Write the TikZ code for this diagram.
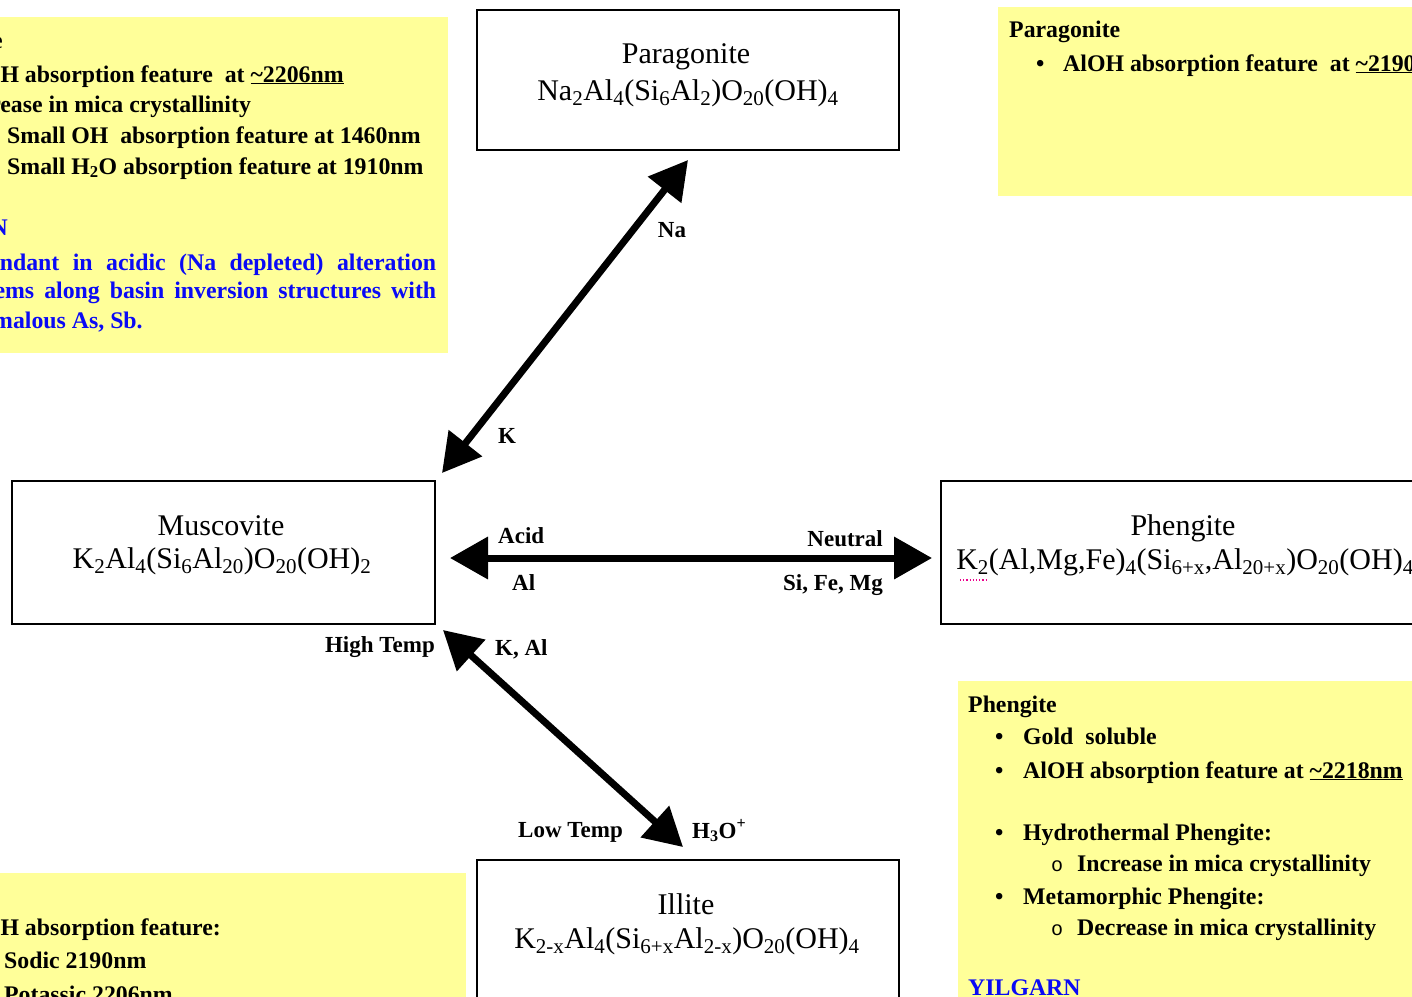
\documentclass[tikz,border=0pt]{standalone}
\usepackage{fontspec}
\setmainfont{Liberation Serif}
\newfontfamily\monofnt{Liberation Mono}
\usetikzlibrary{arrows.meta}
\definecolor{note}{RGB}{255,255,153}
\definecolor{noteblue}{RGB}{10,10,245}
\newcommand{\sbs}[1]{\textsubscript{#1}}
\newcommand{\sps}[1]{\textsuperscript{#1}}
\begin{document}
\begin{tikzpicture}[x=1pt,y=-1pt,
  lab/.style={font=\bfseries\fontsize{23}{27}\selectfont, inner sep=0, anchor=base west},
  txt/.style={font=\bfseries\fontsize{23.8}{28}\selectfont, inner sep=0, anchor=base west},
  bluetxt/.style={txt, text=noteblue},
  subbullet/.style={txt, font=\monofnt\mdseries\fontsize{20}{24}\selectfont},
  mineral/.style={draw, line width=1.6pt, fill=white, inner sep=0},
  boxtext/.style={font=\fontsize{30}{36}\selectfont, inner sep=0, anchor=base},
  biarrow/.style={line width=7pt, {Triangle[length=38pt,width=41pt]}-{Triangle[length=38pt,width=41pt]}}
]
\useasboundingbox (0,0) rectangle (1412,996);
\clip (0,0) rectangle (1412,996);
\fill[white] (0,0) rectangle (1412,996);

% yellow notes
\fill[note] (-5,17) rectangle (448,353);
\fill[note] (998,7) rectangle (1420,196);
\fill[note] (958,681) rectangle (1420,1005);
\fill[note] (-5,873) rectangle (466,1005);

% top-left note
\node[txt, anchor=base east] (tl0) at (3,48) {Muscovite};
\node[txt] (tl1) at (-42,82) {AlOH absorption feature\ \ at \underline{\textasciitilde2206nm}};
\node[txt] (tl2) at (-43,112) {Increase in mica crystallinity};
\node[txt] (tl3) at (7,143) {Small OH\ \ absorption feature at 1460nm};
\node[txt] (tl4) at (7,174) {Small H\sbs{2}O absorption feature at 1910nm};
\node[bluetxt, anchor=base east] (tl5) at (8,235) {N};
\node[bluetxt] (tl6) at (-44,270) {\makebox[480pt][s]{Abundant in acidic (Na depleted) alteration}};
\node[bluetxt] (tl7) at (-44,298) {\makebox[480pt][s]{systems along basin inversion structures with}};
\node[bluetxt] (tl8) at (-44,328) {anomalous As, Sb.};

% top-right note
\node[txt] (tr0) at (1009,37) {Paragonite};
\node[txt] (tr1b) at (1036,71) {•};
\node[txt] (tr1) at (1063,71) {AlOH absorption feature\ \ at \underline{\textasciitilde2190nm}};

% bottom-right note
\node[txt] (br0) at (968,712) {Phengite};
\node[txt] (br1b) at (995,744) {•};
\node[txt] (br1) at (1023,744) {Gold\ \ soluble};
\node[txt] (br2b) at (995,778) {•};
\node[txt] (br2) at (1023,778) {AlOH absorption feature at \underline{\textasciitilde2218nm}};
\node[txt] (br3b) at (995,840) {•};
\node[txt] (br3) at (1023,840) {Hydrothermal Phengite:};
\node[subbullet] (br4b) at (1051,871) {o};
\node[txt] (br4) at (1077,871) {Increase in mica crystallinity};
\node[txt] (br5b) at (995,904) {•};
\node[txt] (br5) at (1023,904) {Metamorphic Phengite:};
\node[subbullet] (br6b) at (1051,935) {o};
\node[txt] (br6) at (1077,935) {Decrease in mica crystallinity};
\node[bluetxt] (br7) at (968,995) {YILGARN};

% bottom-left note
\node[txt] (bl1) at (-42,935) {AlOH absorption feature:};
\node[txt] (bl2) at (4,968) {Sodic 2190nm};
\node[txt] (bl3) at (4,1002) {Potassic 2206nm};

% mineral boxes
\node[mineral, minimum width=422pt, minimum height=140pt] (para) at (688,80) {};
\node[mineral, minimum width=423pt, minimum height=143pt] (musc) at (223.5,552.5) {};
\node[mineral, minimum width=484pt, minimum height=143pt] (phen) at (1183,552.5) {};
\node[mineral, minimum width=422pt, minimum height=150pt] (illi) at (688,935) {};

\node[boxtext] (paraT) at (686,63) {Paragonite};
\node[boxtext] (paraF) at (688,100) {Na\sbs{2}Al\sbs{4}(Si\sbs{6}Al\sbs{2})O\sbs{20}(OH)\sbs{4}};
\node[boxtext] (muscT) at (221,535) {Muscovite};
\node[boxtext] (muscF) at (222,568) {K\sbs{2}Al\sbs{4}(Si\sbs{6}Al\sbs{20})O\sbs{20}(OH)\sbs{2}};
\node[boxtext] (phenT) at (1183,535) {Phengite};
\node[boxtext] (phenF) at (1185,569) {K\sbs{2}(Al,Mg,Fe)\sbs{4}(Si\sbs{6+x},Al\sbs{20+x})O\sbs{20}(OH)\sbs{4}};
\node[boxtext] (illiT) at (686,914) {Illite};
\node[boxtext] (illiF) at (687,948) {K\sbs{2-x}Al\sbs{4}(Si\sbs{6+x}Al\sbs{2-x})O\sbs{20}(OH)\sbs{4}};
\draw[magenta, dotted, line width=1.2pt] (960,580) -- (988,580);

% connectors
\coordinate (naTip) at (688,160);
\coordinate (kTip) at (442,473);
\coordinate (acidTip) at (450,558);
\coordinate (neutTip) at (932,558);
\coordinate (highTip) at (443,630);
\coordinate (lowTip) at (683,847);
\draw[biarrow] (naTip) -- (kTip);
\draw[biarrow] (acidTip) -- (neutTip);
\draw[biarrow] (highTip) -- (lowTip);

% arrow labels
\node[lab, anchor=base] (lNa) at (672,237) {Na};
\node[lab, anchor=base] (lK) at (507,443) {K};
\node[lab] (lAcid) at (498,543) {Acid};
\node[lab, anchor=base east] (lNeut) at (883,546) {Neutral};
\node[lab] (lAl) at (512,590) {Al};
\node[lab, anchor=base east] (lSi) at (883,590) {Si, Fe, Mg};
\node[lab] (lKAl) at (495,655) {K, Al};
\node[lab, anchor=base east] (lHigh) at (435,652) {High Temp};
\node[lab] (lLow) at (518,837) {Low Temp};
\node[lab] (lH3O) at (692,838) {H\sbs{3}O\sps{+}};
\end{tikzpicture}
\end{document}
